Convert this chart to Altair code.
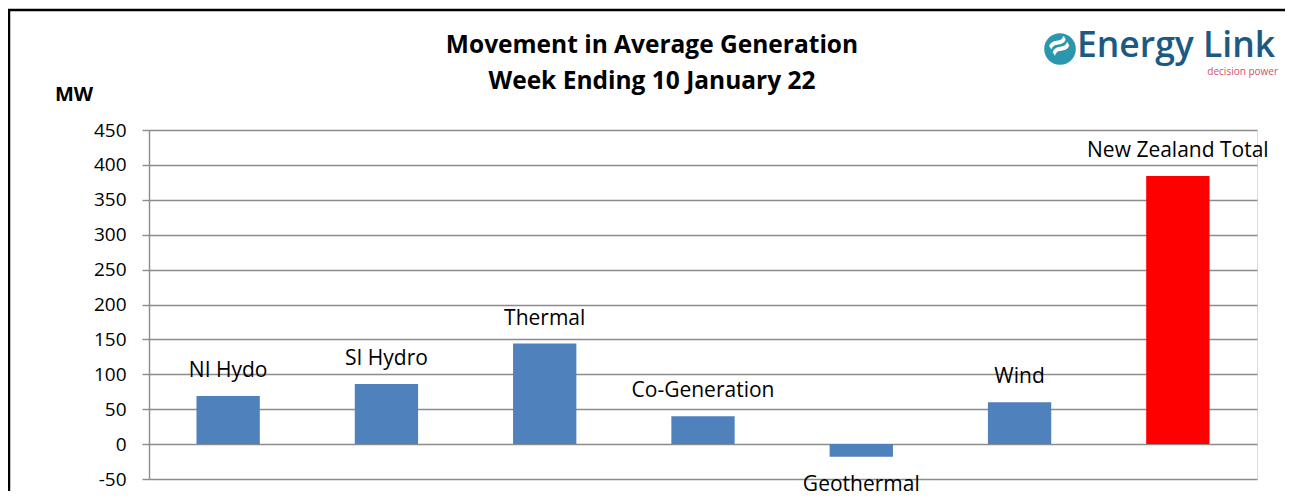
import altair as alt
import pandas as pd

categories = ["NI Hydo", "SI Hydro", "Thermal", "Co-Generation", "Geothermal", "Wind", "New Zealand Total"]
values = [69, 86, 144, 40, -18, 60, 384]
colors = ["#4F81BD", "#4F81BD", "#4F81BD", "#4F81BD", "#4F81BD", "#4F81BD", "#FF0000"]
y_ticks = [-50, 0, 50, 100, 150, 200, 250, 300, 350, 400, 450]

title_lines = ["Movement in Average Generation", "Week Ending 10 January 22"]

df = pd.DataFrame({"cat": categories, "value": values, "color": colors})

FONT = "Open Sans"
W, H = 1108, 349

x_enc = alt.X("cat:N", sort=categories,
              scale=alt.Scale(paddingInner=0.6, paddingOuter=0.3),
              axis=None)
y_scale = alt.Scale(domain=[-50, 450], nice=False, zero=False)
y_axis = alt.Axis(values=y_ticks, tickCount=len(y_ticks), title=None, grid=True,
                  gridColor="#8C8C8C", gridWidth=1.4,
                  domainColor="#8C8C8C", domainWidth=1.4,
                  tickColor="#8C8C8C", tickSize=7, tickWidth=1.4,
                  labelFont=FONT, labelFontSize=19, labelColor="#000000",
                  labelPadding=16, labelOverlap=False,
                  labelExpr="'' + datum.value")

base = alt.Chart(df)

bars = base.mark_bar().encode(
    x=x_enc,
    y=alt.Y("value:Q", scale=y_scale, axis=y_axis),
    y2=alt.datum(0),
    color=alt.Color("color:N", scale=None),
)

lbl_pos = base.transform_filter("datum.value >= 0").mark_text(
    font=FONT, fontSize=21, color="#000000", dy=-25, baseline="middle"
).encode(x=x_enc, y=alt.Y("value:Q", scale=y_scale, axis=y_axis), text="cat:N")

lbl_neg = base.transform_filter("datum.value < 0").mark_text(
    font=FONT, fontSize=21, color="#000000", dy=28, baseline="middle"
).encode(x=x_enc, y=alt.Y("value:Q", scale=y_scale, axis=y_axis), text="cat:N")

deco = pd.DataFrame({"k": [0]})
dbase = alt.Chart(deco)

border_top = dbase.mark_rule(color="#000000", strokeWidth=2.5).encode(
    x=alt.value(-141), x2=alt.value(1136), y=alt.value(-120)
)
border_left = dbase.mark_rule(color="#000000", strokeWidth=2.5).encode(
    x=alt.value(-140), y=alt.value(-121), y2=alt.value(370)
)

t1 = dbase.mark_text(font=FONT, fontSize=24.5, fontWeight="bold", color="#000000",
                     baseline="middle", align="center").encode(
    x=alt.value(503), y=alt.value(-84), text=alt.value(title_lines[0]))
t2 = dbase.mark_text(font=FONT, fontSize=24.5, fontWeight="bold", color="#000000",
                     baseline="middle", align="center").encode(
    x=alt.value(503), y=alt.value(-48), text=alt.value(title_lines[1]))

mw = dbase.mark_text(font=FONT, fontSize=20, fontWeight="bold", color="#000000",
                     baseline="middle", align="left").encode(
    x=alt.value(-94), y=alt.value(-35), text=alt.value("MW"))

logo_circle = dbase.mark_point(filled=True, shape="circle", size=1000, color="#2A97AE", opacity=1).encode(
    x=alt.value(911), y=alt.value(-81))
logo_wave = dbase.mark_text(font=FONT, fontSize=36, fontWeight="bold", color="#FFFFFF",
                            baseline="middle", align="center", angle=330).encode(
    x=alt.value(911), y=alt.value(-83), text=alt.value("≈"))
logo_text = dbase.mark_text(font=FONT, fontSize=35.5, fontWeight=600, color="#1B5A84",
                            baseline="middle", align="left").encode(
    x=alt.value(928), y=alt.value(-84), text=alt.value("Energy Link"))
logo_sub = dbase.mark_text(font=FONT, fontSize=10, color="#D0506A",
                           baseline="middle", align="right").encode(
    x=alt.value(1129), y=alt.value(-58), text=alt.value("decision power"))

chart = alt.layer(
    border_top, border_left, bars, lbl_pos, lbl_neg, t1, t2, mw,
    logo_circle, logo_wave, logo_text, logo_sub
).properties(
    width=W, height=H,
    autosize=alt.AutoSizeParams(type="none"),
    padding={"left": 141, "top": 122, "right": 28, "bottom": 12},
).configure_view(stroke="transparent", strokeWidth=0).configure(background="#FFFFFF")

chart.save("out.html", embed_options={"renderer": "svg", "actions": False})
